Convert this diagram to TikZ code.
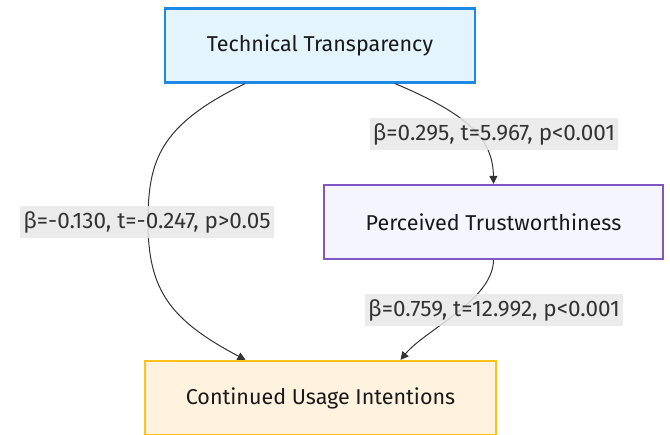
\documentclass[tikz,border=0pt]{standalone}
\usepackage{fontspec}
\setmainfont{Fira Sans}
\usetikzlibrary{arrows.meta,calc}
\definecolor{tfill}{HTML}{E3F4FD}
\definecolor{tdraw}{HTML}{1E88E5}
\definecolor{pfill}{HTML}{F5F5FF}
\definecolor{pdraw}{HTML}{7E57C2}
\definecolor{cfill}{HTML}{FFF3E0}
\definecolor{cdraw}{HTML}{FFC21A}
\definecolor{lblfill}{HTML}{E8E8E8}
\definecolor{edgec}{HTML}{333333}
\tikzset{
  x=1pt,y=-1pt,
  box/.style={draw, line width=2.2pt, minimum width=#1, minimum height=74pt, inner sep=0pt, font=\fontsize{21.5}{24}\selectfont, text=black!90},
  lbl/.style={fill=lblfill, fill opacity=0.85, text opacity=1, text=black!80, inner xsep=3pt, inner ysep=0pt, minimum height=32pt, font=\fontsize{22.5}{25}\selectfont},
  edge/.style={draw=edgec, line width=1pt, -{Triangle[length=8pt,width=8pt]}}
}
\begin{document}
\begin{tikzpicture}
\useasboundingbox (0,0) rectangle (670,435);
\node[box=310pt, fill=tfill, draw=tdraw] (tt) at (320,45.5) {Technical Transparency};
\node[box=339pt, fill=pfill, draw=pdraw] (pt) at (493.5,222) {Perceived Trustworthiness};
\node[box=351pt, fill=cfill, draw=cdraw] (cu) at (320.5,398) {Continued Usage Intentions};
\draw[edge] ($(tt.south)+(-75,0)$) .. controls (160,125) and (148,160) .. (148,222) .. controls (148,290) and (170,320) .. ($(cu.north)+(-75,0)$);
\draw[edge] ($(tt.south)+(75,0)$) .. controls (470,115) and (493,140) .. (pt.north);
\draw[edge] (pt.south) .. controls (493,300) and (425,330) .. ($(cu.north)+(80,0)$);
\node[lbl] (l1) at (494,134) {β=0.295, t=5.967, p<0.001};
\node[lbl] (l2) at (147,222) {β=-0.130, t=-0.247, p>0.05};
\node[lbl] (l3) at (494,310) {β=0.759, t=12.992, p<0.001};
\end{tikzpicture}
\end{document}
